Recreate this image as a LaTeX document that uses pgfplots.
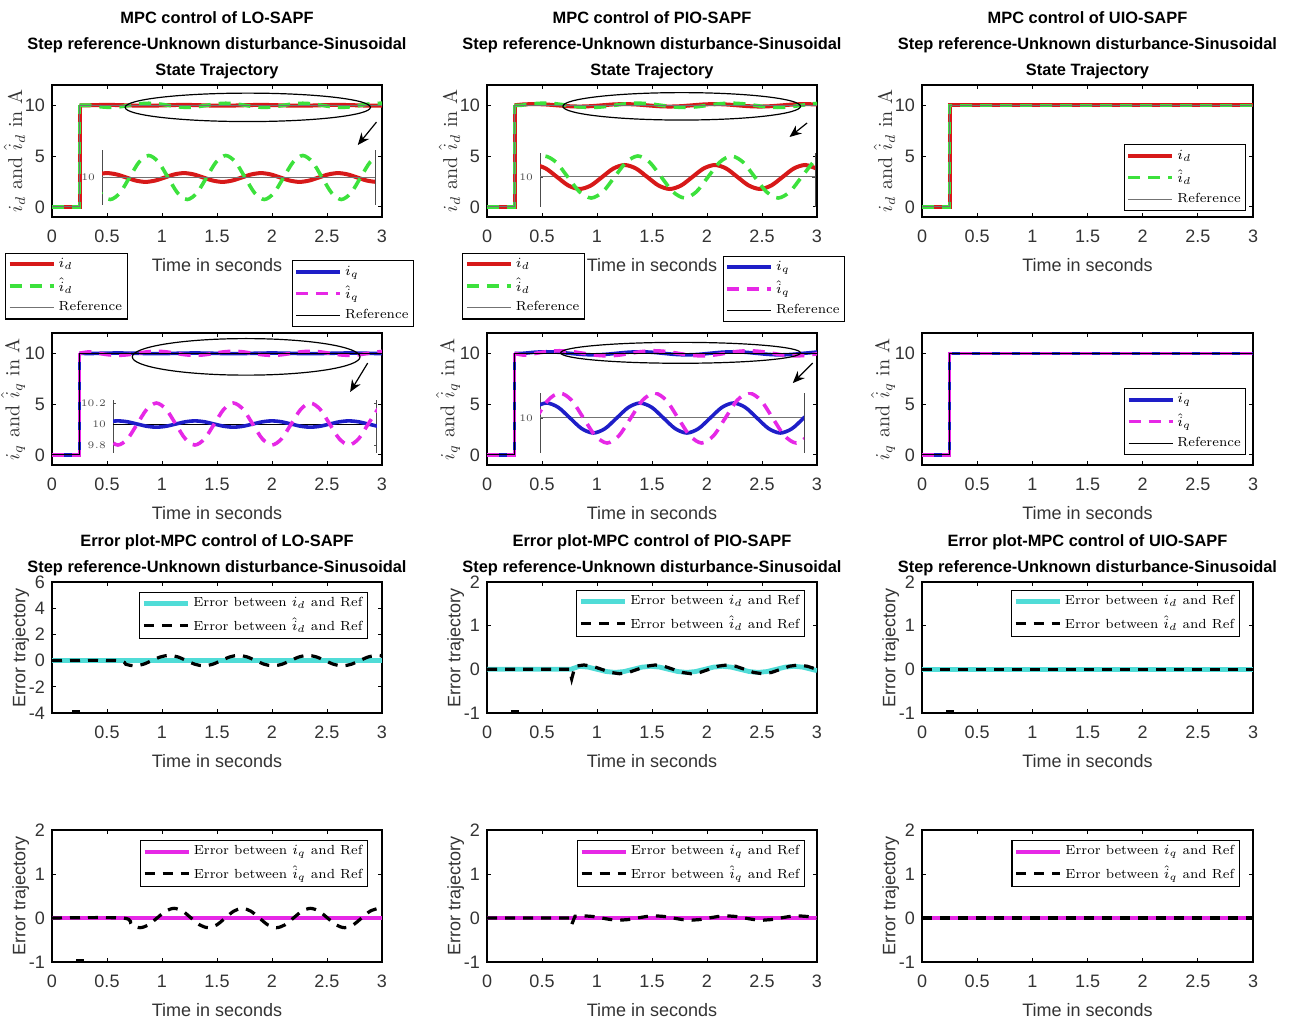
\documentclass[border=0pt]{standalone}
\usepackage{fontspec}
\usepackage{pgfplots}
\usepackage{pgfplotstable}
\pgfplotsset{compat=1.18}
\usetikzlibrary{arrows.meta}
\newfontfamily\arial{Liberation Sans}

\definecolor{cr}{RGB}{215,25,25}
\definecolor{cg}{RGB}{60,225,60}
\definecolor{cb}{RGB}{30,30,200}
\definecolor{cm}{RGB}{230,40,230}
\definecolor{cc}{RGB}{80,220,215}

\tikzset{
  pRed/.style={color=cr, line width=2pt},
  pGreen/.style={color=cg, line width=1.8pt, dash pattern=on 6pt off 4pt},
  pRef/.style={color=black!55, line width=0.5pt},
  pBlue/.style={color=cb, line width=1.8pt},
  pMag/.style={color=cm, line width=1.8pt, dash pattern=on 6pt off 4pt},
  pRefq/.style={color=black, line width=0.5pt},
  pCyan/.style={color=cc, line width=2.4pt},
  pMagE/.style={color=cm, line width=2.2pt},
  pErr/.style={color=black, line width=1.6pt, dash pattern=on 5pt off 4pt},
  spike/.style={black, only marks, mark=-, mark size=2pt, mark options={line width=1.4pt}},
  arr/.style={-{Stealth[length=6pt,width=5pt]}, line width=0.6pt},
}

\pgfplotsset{
  base/.style={scale only axis, anchor=south west,
    xmin=0, xmax=3, xtick={0,0.5,1,1.5,2,2.5,3},
    axis line style={line width=0.6pt}, tick style={black, line width=0.4pt},
    major tick length=2pt,
    tick label style={font=\arial\fontsize{9}{10}\selectfont, text=black!80},
    /pgf/number format/assume math mode=true,
    xticklabel style={yshift=-3pt},
    xlabel={Time in seconds},
    xlabel style={font=\arial\fontsize{9}{10}\selectfont, text=black!80, yshift=-1pt},
    title style={font=\arial\bfseries\fontsize{8.2}{13}\selectfont, align=center, yshift=-6.5pt},
    ylabel shift=-7pt,
    legend cell align=left,
    legend style={font=\fontsize{6.6}{7.6}\selectfont, draw=black, line width=0.6pt,
      inner sep=1pt, row sep=0.8pt, nodes={inner sep=1.5pt}},
    legend image code/.code={\draw[#1] (0pt,0pt) -- (22pt,0pt);}},
  state/.style={base, width=165pt, height=66pt, ymin=-1, ymax=12, ytick={0,5,10},
    ylabel style={font=\fontsize{10}{12}\selectfont, text=black!80}},
  err/.style={base, width=165pt, height=65.5pt, ymin=-1, ymax=2, ytick={-1,0,1,2},
    ylabel={Error trajectory},
    ylabel style={font=\arial\fontsize{9}{10}\selectfont, text=black!80}},
  inset/.style={scale only axis, anchor=south west, hide x axis, separate axis lines,
    axis line style={black!70, line width=0.5pt}, major tick length=1.5pt,
    tick style={black!70},
    yticklabel style={font=\fontsize{5.5}{6}\selectfont, text=black!70}},
}

% common step reference
\pgfplotstableread{
t v
0 0
0.25 0
0.25 10
}\stepT
\pgfplotstableread{
t v
0 0
0.25 0
0.25 10
3 10
}\refT
\pgfplotstableread{
t v
0 0
3 0
}\zeroT

% LO-SAPF, i_d (red) and estimate (green)
\pgfplotstableread{
t v
0.25 10
0.325 10
0.4125 10.028
0.5 10.04
0.5875 10.028
0.675 10
0.7625 9.972
0.85 9.96
0.9375 9.972
1.025 10
1.1125 10.028
1.2 10.04
1.2875 10.028
1.375 10
1.4625 9.972
1.55 9.96
1.6375 9.972
1.725 10
1.8125 10.028
1.9 10.04
1.9875 10.028
2.075 10
2.1625 9.972
2.25 9.96
2.3375 9.972
2.425 10
2.5125 10.028
2.6 10.04
2.6875 10.028
2.775 10
2.8625 9.972
2.95 9.96
3.0 9.965
}\LOd
\pgfplotstableread{
t v
0.25 10
0.355 10
0.4425 9.859
0.53 9.8
0.6175 9.859
0.705 10
0.7925 10.141
0.88 10.2
0.9675 10.141
1.055 10
1.1425 9.859
1.23 9.8
1.3175 9.859
1.405 10
1.4925 10.141
1.58 10.2
1.6675 10.141
1.755 10
1.8425 9.859
1.93 9.8
2.0175 9.859
2.105 10
2.1925 10.141
2.28 10.2
2.3675 10.141
2.455 10
2.5425 9.859
2.63 9.8
2.7175 9.859
2.805 10
2.8925 10.141
2.98 10.2
3.0 10.198
}\LOdh
% LO-SAPF, i_q (blue) and estimate (magenta)
\pgfplotstableread{
t v
0.25 10
0.3375 9.979
0.425 10
0.5125 10.021
0.6 10.03
0.6875 10.021
0.775 10
0.8625 9.979
0.95 9.97
1.0375 9.979
1.125 10
1.2125 10.021
1.3 10.03
1.3875 10.021
1.475 10
1.5625 9.979
1.65 9.97
1.7375 9.979
1.825 10
1.9125 10.021
2.0 10.03
2.0875 10.021
2.175 10
2.2625 9.979
2.35 9.97
2.4375 9.979
2.525 10
2.6125 10.021
2.7 10.03
2.7875 10.021
2.875 10
2.9625 9.979
3.0 9.973
}\LOq
\pgfplotstableread{
t v
0.25 10
0.3375 10.141
0.425 10
0.5125 9.859
0.6 9.8
0.6875 9.859
0.775 10
0.8625 10.141
0.95 10.2
1.0375 10.141
1.125 10
1.2125 9.859
1.3 9.8
1.3875 9.859
1.475 10
1.5625 10.141
1.65 10.2
1.7375 10.141
1.825 10
1.9125 9.859
2.0 9.8
2.0875 9.859
2.175 10
2.2625 10.141
2.35 10.2
2.4375 10.141
2.525 10
2.6125 9.859
2.7 9.8
2.7875 9.859
2.875 10
2.9625 10.141
3.0 10.18
}\LOqh

% PIO-SAPF
\pgfplotstableread{
t v
0.25 10
0.3275 10.085
0.43 10.12
0.5325 10.085
0.635 10
0.7375 9.915
0.84 9.88
0.9425 9.915
1.045 10
1.1475 10.085
1.25 10.12
1.3525 10.085
1.455 10
1.5575 9.915
1.66 9.88
1.7625 9.915
1.865 10
1.9675 10.085
2.07 10.12
2.1725 10.085
2.275 10
2.3775 9.915
2.48 9.88
2.5825 9.915
2.685 10
2.7875 10.085
2.89 10.12
2.9925 10.085
3.0 10.081
}\PIOd
\pgfplotstableread{
t v
0.25 10
0.3075 10
0.41375 10.148
0.52 10.21
0.62625 10.148
0.7325 10
0.83875 9.852
0.945 9.79
1.05125 9.852
1.1575 10
1.26375 10.148
1.37 10.21
1.47625 10.148
1.5825 10
1.68875 9.852
1.795 9.79
1.90125 9.852
2.0075 10
2.11375 10.148
2.22 10.21
2.32625 10.148
2.4325 10
2.53875 9.852
2.645 9.79
2.75125 9.852
2.8575 10
2.96375 10.148
3.0 10.183
}\PIOdh
\pgfplotstableread{
t v
0.25 10
0.3275 10
0.43375 10.106
0.54 10.15
0.64625 10.106
0.7525 10
0.85875 9.894
0.965 9.85
1.07125 9.894
1.1775 10
1.28375 10.106
1.39 10.15
1.49625 10.106
1.6025 10
1.70875 9.894
1.815 9.85
1.92125 9.894
2.0275 10
2.13375 10.106
2.24 10.15
2.34625 10.106
2.4525 10
2.55875 9.894
2.665 9.85
2.77125 9.894
2.8775 10
2.98375 10.106
3.0 10.113
}\PIOq
\pgfplotstableread{
t v
0.25 10
0.3375 9.823
0.445 10
0.5525 10.177
0.66 10.25
0.7675 10.177
0.875 10
0.9825 9.823
1.09 9.75
1.1975 9.823
1.305 10
1.4125 10.177
1.52 10.25
1.6275 10.177
1.735 10
1.8425 9.823
1.95 9.75
2.0575 9.823
2.165 10
2.2725 10.177
2.38 10.25
2.4875 10.177
2.595 10
2.7025 9.823
2.81 9.75
2.9175 9.823
3.0 9.955
}\PIOqh

% error of the estimates
\pgfplotstableread{
t v
0 0
0.5925 0
0.67125 -0.283
0.75 -0.4
0.82875 -0.283
0.9075 0
0.98625 0.283
1.065 0.4
1.14375 0.283
1.2225 0
1.30125 -0.283
1.38 -0.4
1.45875 -0.283
1.5375 0
1.61625 0.283
1.695 0.4
1.77375 0.283
1.8525 0
1.93125 -0.283
2.01 -0.4
2.08875 -0.283
2.1675 0
2.24625 0.283
2.325 0.4
2.40375 0.283
2.4825 0
2.56125 -0.283
2.64 -0.4
2.71875 -0.283
2.7975 0
2.87625 0.283
2.955 0.4
3.0 0.36
}\LOedh
\pgfplotstableread{
t v
0 0
0.645 0
0.7225 -0.156
0.8 -0.22
0.8775 -0.156
0.955 0
1.0325 0.156
1.11 0.22
1.1875 0.156
1.265 0
1.3425 -0.156
1.42 -0.22
1.4975 -0.156
1.575 0
1.6525 0.156
1.73 0.22
1.8075 0.156
1.885 0
1.9625 -0.156
2.04 -0.22
2.1175 -0.156
2.195 0
2.2725 0.156
2.35 0.22
2.4275 0.156
2.505 0
2.5825 -0.156
2.66 -0.22
2.7375 -0.156
2.815 0
2.8925 0.156
2.97 0.22
3.0 0.21
}\LOeqh
\pgfplotstableread{
t v
0 0
0.75 0
0.77 -0.22
0.8 0.07
0.88 0.1
0.96125 0.071
1.0425 0
1.12375 -0.071
1.205 -0.1
1.28625 -0.071
1.3675 0
1.44875 0.071
1.53 0.1
1.61125 0.071
1.6925 0
1.77375 -0.071
1.855 -0.1
1.93625 -0.071
2.0175 0
2.09875 0.071
2.18 0.1
2.26125 0.071
2.3425 0
2.42375 -0.071
2.505 -0.1
2.58625 -0.071
2.6675 0
2.74875 0.071
2.83 0.1
2.91125 0.071
3.0 0
}\PIOedh
\pgfplotstableread{
t v
0 0
0.76 0
0.84 0.07
0.92125 0.05
1.0025 0
1.08375 -0.05
1.165 -0.07
1.24625 -0.05
1.3275 0
1.40875 0.05
1.49 0.07
1.57125 0.05
1.6525 0
1.73375 -0.05
1.815 -0.07
1.89625 -0.05
1.9775 0
2.05875 0.05
2.14 0.07
2.22125 0.05
2.3025 0
2.38375 -0.05
2.465 -0.07
2.54625 -0.05
2.6275 0
2.70875 0.05
2.79 0.07
2.87125 0.05
2.9525 0
3.0 -0.03
}\PIOed
\pgfplotstableread{
t v
0 0
0.75 0
0.77 -0.15
0.8 0.04
0.88 0.05
0.96125 0.035
1.0425 0
1.12375 -0.035
1.205 -0.05
1.28625 -0.035
1.3675 0
1.44875 0.035
1.53 0.05
1.61125 0.035
1.6925 0
1.77375 -0.035
1.855 -0.05
1.93625 -0.035
2.0175 0
2.09875 0.035
2.18 0.05
2.26125 0.035
2.3425 0
2.42375 -0.035
2.505 -0.05
2.58625 -0.035
2.6675 0
2.74875 0.035
2.83 0.05
2.91125 0.035
3.0 0
}\PIOeqh

\begin{document}
\begin{tikzpicture}
\path[use as bounding box] (0pt,0pt) rectangle (645pt,-512pt);

% ---------------- row 1: i_d ----------------
\begin{axis}[state, at={(26pt,-108.5pt)},
  title={MPC control of LO-SAPF\\Step reference-Unknown disturbance-Sinusoidal\\State Trajectory},
  ylabel={$i_d$ and $\hat{i}_d$ in A},
  legend style={at={(axis description cs:-0.142,-0.27)}, anchor=north west}]
\addplot[pRed, forget plot] table {\stepT};
\addplot[pRed, smooth] table {\LOd};
\addlegendentry{$i_d$}
\addplot[pGreen, forget plot] table {\stepT};
\addplot[pGreen, smooth] table {\LOdh};
\addlegendentry{$\hat{i}_d$}
\addplot[pRef] table {\refT};
\addlegendentry{Reference}
\draw[line width=0.6pt] (axis cs:1.78,9.8) ellipse [x radius=1.115, y radius=1.4];
\draw[arr] (axis cs:2.95,8.35) -- (axis cs:2.78,6.09);
\end{axis}
\begin{axis}[inset, at={(51pt,-102.5pt)}, width=136.5pt, height=27.5pt,
  xmin=0.455, xmax=2.936, ymin=9.75, ymax=10.25, ytick={10}]
\addplot[pRed, smooth] table {\LOd};
\addplot[pGreen, smooth] table {\LOdh};
\addplot[pRef] table {\refT};
\end{axis}

\begin{axis}[state, at={(243.5pt,-108.5pt)},
  title={MPC control of PIO-SAPF\\Step reference-Unknown disturbance-Sinusoidal\\State Trajectory},
  ylabel={$i_d$ and $\hat{i}_d$ in A},
  legend style={at={(axis description cs:-0.075,-0.27)}, anchor=north west}]
\addplot[pRed, forget plot] table {\stepT};
\addplot[pRed, smooth] table {\PIOd};
\addlegendentry{$i_d$}
\addplot[pGreen, forget plot] table {\stepT};
\addplot[pGreen, smooth] table {\PIOdh};
\addlegendentry{$\hat{i}_d$}
\addplot[pRef] table {\refT};
\addlegendentry{Reference}
\draw[line width=0.6pt] (axis cs:1.77,9.9) ellipse [x radius=1.08, y radius=1.35];
\draw[arr] (axis cs:2.91,8.26) -- (axis cs:2.75,6.88);
\end{axis}
\begin{axis}[inset, at={(270pt,-103.5pt)}, width=137.5pt, height=27pt,
  xmin=0.48, xmax=2.98, ymin=9.70, ymax=10.24, ytick={10}]
\addplot[pRef] table {\refT};
\addplot[pRed, smooth] table {\PIOd};
\addplot[pGreen, smooth] table {\PIOdh};
\end{axis}

\begin{axis}[state, at={(461pt,-108.5pt)}, width=165.5pt,
  title={MPC control of UIO-SAPF\\Step reference-Unknown disturbance-Sinusoidal\\State Trajectory},
  ylabel={$i_d$ and $\hat{i}_d$ in A},
  legend style={at={(axis description cs:0.98,0.045)}, anchor=south east}]
\addplot[pRed] table {\refT};
\addlegendentry{$i_d$}
\addplot[pGreen] table {\refT};
\addlegendentry{$\hat{i}_d$}
\addplot[pRef] table {\refT};
\addlegendentry{Reference}
\end{axis}

% ---------------- row 2: i_q ----------------
\begin{axis}[state, at={(26pt,-232.5pt)},
  ylabel={$i_q$ and $\hat{i}_q$ in A},
  legend style={at={(axis description cs:0.727,1.045)}, anchor=south west}]
\addplot[pBlue, forget plot] table {\stepT};
\addplot[pBlue, smooth] table {\LOq};
\addlegendentry{$i_q$}
\addplot[pMag, forget plot] table {\stepT};
\addplot[pMag, smooth] table {\LOqh};
\addlegendentry{$\hat{i}_q$}
\addplot[pRefq] table {\refT};
\addlegendentry{Reference}
\draw[line width=0.6pt] (axis cs:1.765,9.65) ellipse [x radius=1.035, y radius=1.8];
\draw[arr] (axis cs:2.87,9.04) -- (axis cs:2.71,6.19);
\end{axis}
\begin{axis}[inset, at={(56.5pt,-226.5pt)}, width=132pt, height=26.5pt,
  xmin=0.555, xmax=2.955, ymin=9.724, ymax=10.229, ytick={9.8,10,10.2}]
\addplot[pRefq] table {\refT};
\addplot[pBlue, smooth] table {\LOq};
\addplot[pMag, smooth] table {\LOqh};
\end{axis}

\begin{axis}[state, at={(243.5pt,-232.5pt)},
  ylabel={$i_q$ and $\hat{i}_q$ in A},
  legend style={at={(axis description cs:0.715,1.08)}, anchor=south west}]
\addplot[pBlue, forget plot] table {\stepT};
\addplot[pBlue, smooth] table {\PIOq};
\addlegendentry{$i_q$}
\addplot[pMag, forget plot] table {\stepT};
\addplot[pMag, smooth] table {\PIOqh};
\addlegendentry{$\hat{i}_q$}
\addplot[pRefq] table {\refT};
\addlegendentry{Reference}
\draw[line width=0.6pt] (axis cs:1.76,10.05) ellipse [x radius=1.09, y radius=1.03];
\draw[arr] (axis cs:2.96,9.04) -- (axis cs:2.78,7.07);
\end{axis}
\begin{axis}[inset, at={(270pt,-226.5pt)}, width=132pt, height=30pt,
  xmin=0.48, xmax=2.88, ymin=9.65, ymax=10.25, ytick={10}]
\addplot[pRef] table {\refT};
\addplot[pBlue, smooth] table {\PIOq};
\addplot[pMag, smooth] table {\PIOqh};
\end{axis}

\begin{axis}[state, at={(461pt,-232.5pt)}, width=165.5pt,
  ylabel={$i_q$ and $\hat{i}_q$ in A},
  legend style={at={(axis description cs:0.98,0.076)}, anchor=south east}]
\addplot[pBlue] table {\refT};
\addlegendentry{$i_q$}
\addplot[pMag] table {\refT};
\addlegendentry{$\hat{i}_q$}
\addplot[pRefq] table {\refT};
\addlegendentry{Reference}
\end{axis}

% ---------------- row 3: error in i_d ----------------
\begin{axis}[err, at={(26pt,-356.5pt)}, ymin=-4, ymax=6, ytick={-4,-2,0,2,4,6},
  xtick={0.5,1,1.5,2,2.5,3},
  title={Error plot-MPC control of LO-SAPF\\Step reference-Unknown disturbance-Sinusoidal},
  legend style={at={(axis description cs:0.958,0.924)}, anchor=north east}]
\addplot[pCyan] table {\zeroT};
\addlegendentry{Error between $i_d$ and Ref}
\addplot[pErr, smooth] table {\LOedh};
\addlegendentry{Error between $\hat{i}_d$ and Ref}
\addplot[spike, forget plot] coordinates {(0.22,-3.85)};
\end{axis}

\begin{axis}[err, at={(243.5pt,-356.5pt)},
  title={Error plot-MPC control of PIO-SAPF\\Step reference-Unknown disturbance-Sinusoidal},
  legend style={at={(axis description cs:0.964,0.94)}, anchor=north east}]
\addplot[pCyan] table {\PIOed};
\addlegendentry{Error between $i_d$ and Ref}
\addplot[pErr] table {\PIOedh};
\addlegendentry{Error between $\hat{i}_d$ and Ref}
\addplot[spike, forget plot] coordinates {(0.25,-0.97)};
\end{axis}

\begin{axis}[err, at={(461pt,-356.5pt)}, width=165.5pt,
  title={Error plot-MPC control of UIO-SAPF\\Step reference-Unknown disturbance-Sinusoidal},
  legend style={at={(axis description cs:0.96,0.94)}, anchor=north east}]
\addplot[pCyan] table {\zeroT};
\addlegendentry{Error between $i_d$ and Ref}
\addplot[pErr] table {\zeroT};
\addlegendentry{Error between $\hat{i}_d$ and Ref}
\addplot[spike, forget plot] coordinates {(0.25,-0.97)};
\end{axis}

% ---------------- row 4: error in i_q ----------------
\begin{axis}[err, at={(26pt,-481pt)}, height=66pt,
  legend style={at={(axis description cs:0.958,0.924)}, anchor=north east}]
\addplot[pMagE] table {\zeroT};
\addlegendentry{Error between $i_q$ and Ref}
\addplot[pErr, smooth] table {\LOeqh};
\addlegendentry{Error between $\hat{i}_q$ and Ref}
\addplot[spike, forget plot] coordinates {(0.25,-0.97)};
\end{axis}

\begin{axis}[err, at={(243.5pt,-481pt)}, height=66pt,
  legend style={at={(axis description cs:0.964,0.924)}, anchor=north east}]
\addplot[pMagE] table {\zeroT};
\addlegendentry{Error between $i_q$ and Ref}
\addplot[pErr] table {\PIOeqh};
\addlegendentry{Error between $\hat{i}_q$ and Ref}
\end{axis}

\begin{axis}[err, at={(461pt,-481pt)}, width=165.5pt, height=66pt,
  legend style={at={(axis description cs:0.96,0.924)}, anchor=north east}]
\addplot[pMagE] table {\zeroT};
\addlegendentry{Error between $i_q$ and Ref}
\addplot[pErr] table {\zeroT};
\addlegendentry{Error between $\hat{i}_q$ and Ref}
\end{axis}
\end{tikzpicture}
\end{document}
